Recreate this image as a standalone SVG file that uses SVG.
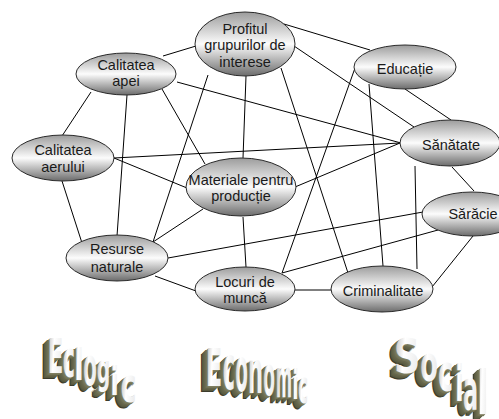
<svg xmlns="http://www.w3.org/2000/svg" xmlns:xlink="http://www.w3.org/1999/xlink" width="499" height="419" viewBox="0 0 499 419">
<defs>
<linearGradient id="ng" x1="0" y1="0" x2="0" y2="1">
<stop offset="0" stop-color="#9c9c9c"/>
<stop offset="0.5" stop-color="#fcfcfc"/>
<stop offset="1" stop-color="#6c6c6c"/>
</linearGradient>
<linearGradient id="face" x1="0" y1="0" x2="1" y2="0.2">
<stop offset="0" stop-color="#b4b4b4"/>
<stop offset="0.45" stop-color="#ffffff"/>
<stop offset="1" stop-color="#ececec"/>
</linearGradient>
<style>
.node ellipse{fill:url(#ng);stroke:#2a2a2a;stroke-width:1}
.node text{font-family:"Liberation Sans",Arial,sans-serif;font-size:14.5px;fill:#1a1a1a;text-anchor:middle}
#connectors line{stroke:#000;stroke-width:1}
.wa text{font-family:"DejaVu Sans Condensed","DejaVu Sans",sans-serif;font-weight:bold;font-size:10px;text-anchor:middle}
</style>
<g id="wEclogic" class="wa">
<text transform="translate(55.5,373) scale(2.6,4.8)">E</text>
<text transform="translate(69,377) scale(2.3,5.18)">c</text>
<text transform="translate(79,380) scale(3.2,4.34)">l</text>
<text transform="translate(90,385) scale(2.2,5.36)">o</text>
<text transform="translate(103.5,383.3) scale(2.1,4.16)">g</text>
<text transform="translate(114.5,395) scale(2.8,3.95)">i</text>
<text transform="translate(128.5,402) scale(3.0,4.82)">c</text>
</g>
<g id="wEconomic" class="wa">
<text transform="translate(214,386) scale(2.7,5.21)">E</text>
<text transform="translate(229,389) scale(2.3,6.07)">c</text>
<text transform="translate(241.5,391) scale(2.05,6.07)">o</text>
<text transform="translate(255.5,393) scale(2.35,5.9)">n</text>
<text transform="translate(269,395) scale(1.9,5.54)">o</text>
<text transform="translate(284,397) scale(1.75,5.36)">m</text>
<text transform="translate(295.5,399) scale(2.1,4.08)">i</text>
<text transform="translate(303,403) scale(1.9,4.64)">c</text>
</g>
<g id="wSocial" class="wa">
<text transform="translate(407,373) scale(4.1,4.8)">S</text>
<text transform="translate(429,381) scale(2.85,5.0)">o</text>
<text transform="translate(445.5,391) scale(2.85,5.18)">c</text>
<text transform="translate(459.5,401) scale(2.85,5.0)">i</text>
<text transform="translate(470.5,409) scale(2.5,5.54)">a</text>
<text transform="translate(483,414) scale(4.0,6.05)">l</text>
</g>
</defs>
<rect width="499" height="419" fill="#ffffff"/>
<g id="connectors">
<line x1="163" y1="56" x2="196" y2="46"/>
<line x1="177" y1="82" x2="401" y2="143"/>
<line x1="91" y1="92" x2="62" y2="136"/>
<line x1="127" y1="95" x2="117" y2="236"/>
<line x1="162" y1="89" x2="205" y2="164"/>
<line x1="208" y1="75" x2="153" y2="242"/>
<line x1="246" y1="76" x2="243" y2="158"/>
<line x1="284" y1="24" x2="370" y2="50"/>
<line x1="294" y1="46" x2="414" y2="127"/>
<line x1="281" y1="68" x2="348" y2="273"/>
<line x1="355" y1="68" x2="282" y2="273"/>
<line x1="369" y1="84" x2="383" y2="266"/>
<line x1="405" y1="89" x2="451" y2="120"/>
<line x1="114" y1="158" x2="400" y2="143"/>
<line x1="114" y1="158" x2="187" y2="188"/>
<line x1="62" y1="181" x2="82" y2="243"/>
<line x1="295" y1="187" x2="400" y2="143"/>
<line x1="203" y1="209" x2="153" y2="242"/>
<line x1="243" y1="217" x2="246" y2="267"/>
<line x1="168" y1="258" x2="423" y2="212"/>
<line x1="155" y1="276" x2="196" y2="291"/>
<line x1="282" y1="273" x2="438" y2="230"/>
<line x1="295" y1="290" x2="332" y2="290"/>
<line x1="432" y1="287" x2="473" y2="236"/>
<line x1="415" y1="166" x2="417" y2="269"/>
<line x1="452" y1="167" x2="474" y2="191"/>
</g>
<g id="n-calitatea-apei" class="node"><ellipse cx="126" cy="74" rx="50" ry="21"/><text x="126" y="69.5">Calitatea</text><text x="126" y="86">apei</text></g>
<g id="n-profitul" class="node"><ellipse cx="245" cy="44" rx="50" ry="32"/><text x="245" y="33.5">Profitul</text><text x="245" y="50">grupurilor de</text><text x="245" y="66.5">interese</text></g>
<g id="n-educatie" class="node"><ellipse cx="405" cy="67" rx="51" ry="22"/><text x="405" y="73.5">Educație</text></g>
<g id="n-sanatate" class="node"><ellipse cx="450" cy="143" rx="50" ry="23"/><text x="451" y="149.5">Sănătate</text></g>
<g id="n-saracie" class="node"><ellipse cx="472" cy="214" rx="50" ry="22"/><text x="473" y="218.5">Sărăcie</text></g>
<g id="n-calitatea-aerului" class="node"><ellipse cx="63" cy="158" rx="51" ry="23"/><text x="63" y="155">Calitatea</text><text x="63" y="171.5">aerului</text></g>
<g id="n-materiale" class="node"><ellipse cx="241" cy="187" rx="55" ry="29"/><text x="241" y="185">Materiale pentru</text><text x="241" y="201">producție</text></g>
<g id="n-resurse" class="node"><ellipse cx="117" cy="258" rx="51" ry="23"/><text x="117" y="254">Resurse</text><text x="117" y="271.5">naturale</text></g>
<g id="n-locuri" class="node"><ellipse cx="245" cy="289" rx="50" ry="22"/><text x="245" y="286.5">Locuri de</text><text x="245" y="303">muncă</text></g>
<g id="n-criminalitate" class="node"><ellipse cx="382" cy="289" rx="51" ry="23"/><text x="383" y="295.5">Criminalitate</text></g>
<g id="labels">
<use xlink:href="#wEclogic" x="-7" y="5.6" fill="#3c3c2c"/>
<use xlink:href="#wEclogic" x="-6" y="4.8" fill="#58583e"/>
<use xlink:href="#wEclogic" x="-5" y="4" fill="#606045"/>
<use xlink:href="#wEclogic" x="-4" y="3.2" fill="#66664a"/>
<use xlink:href="#wEclogic" x="-3" y="2.4" fill="#6c6c50"/>
<use xlink:href="#wEclogic" x="-2" y="1.6" fill="#747456"/>
<use xlink:href="#wEclogic" x="-1" y="0.8" fill="#7e7e60"/>
<use xlink:href="#wEclogic" fill="url(#face)"/>
<use xlink:href="#wEconomic" x="-7" y="5.6" fill="#3c3c2c"/>
<use xlink:href="#wEconomic" x="-6" y="4.8" fill="#58583e"/>
<use xlink:href="#wEconomic" x="-5" y="4" fill="#606045"/>
<use xlink:href="#wEconomic" x="-4" y="3.2" fill="#66664a"/>
<use xlink:href="#wEconomic" x="-3" y="2.4" fill="#6c6c50"/>
<use xlink:href="#wEconomic" x="-2" y="1.6" fill="#747456"/>
<use xlink:href="#wEconomic" x="-1" y="0.8" fill="#7e7e60"/>
<use xlink:href="#wEconomic" fill="url(#face)"/>
<use xlink:href="#wSocial" x="-7" y="5.6" fill="#3c3c2c"/>
<use xlink:href="#wSocial" x="-6" y="4.8" fill="#58583e"/>
<use xlink:href="#wSocial" x="-5" y="4" fill="#606045"/>
<use xlink:href="#wSocial" x="-4" y="3.2" fill="#66664a"/>
<use xlink:href="#wSocial" x="-3" y="2.4" fill="#6c6c50"/>
<use xlink:href="#wSocial" x="-2" y="1.6" fill="#747456"/>
<use xlink:href="#wSocial" x="-1" y="0.8" fill="#7e7e60"/>
<use xlink:href="#wSocial" fill="url(#face)"/>
</g>
</svg>
